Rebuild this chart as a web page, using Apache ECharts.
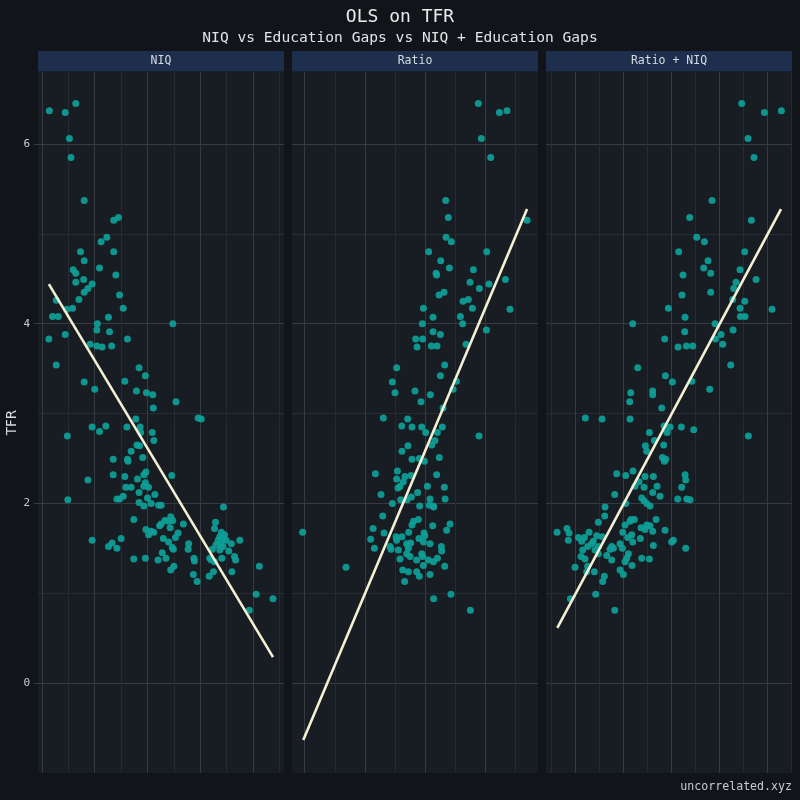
<!DOCTYPE html>
<html>
<head>
<meta charset="utf-8">
<script src="https://cdn.jsdelivr.net/npm/echarts@6/dist/echarts.min.js"></script>
<style>
  html, body { margin: 0; padding: 0; background: #111418; }
  #chart { width: 800px; height: 800px; }
</style>
</head>
<body>
<div id="chart"></div>
<script>
// facet titles
const panelTitles = ['NIQ', 'Ratio', 'Ratio + NIQ']
const yTickValues = [0, 2, 4, 6]

// NIQ vs TFR
const niqPoints = [
  [61.4, 6.37], [64.4, 6.35], [66.4, 6.45], [65.2, 6.06], [65.5, 5.85], [68.0, 5.37], [73.6, 5.15], [74.5, 5.18],
  [71.2, 4.91], [72.3, 4.96], [67.3, 4.80], [73.6, 4.80], [68.0, 4.70], [70.9, 4.62], [65.9, 4.60], [66.4, 4.56],
  [74.0, 4.54], [66.4, 4.46], [67.9, 4.49], [69.5, 4.44], [68.7, 4.39], [68.0, 4.35], [62.7, 4.26], [67.0, 4.27],
  [74.7, 4.32], [64.7, 4.16], [65.8, 4.17], [75.4, 4.17], [62.0, 4.08], [63.1, 4.08], [72.6, 4.07], [70.5, 4.00],
  [84.8, 4.00], [61.3, 3.83], [64.4, 3.88], [70.4, 3.93], [72.8, 3.91], [76.2, 3.83], [69.1, 3.77], [70.4, 3.75],
  [71.4, 3.74], [73.2, 3.75], [62.7, 3.54], [78.4, 3.51], [79.6, 3.42], [68.0, 3.35], [75.7, 3.36], [70.0, 3.27],
  [77.9, 3.25], [79.8, 3.23], [81.0, 3.21], [85.4, 3.13], [81.1, 3.06], [89.6, 2.95], [90.2, 2.94], [77.8, 2.94],
  [69.5, 2.85], [72.1, 2.86], [76.1, 2.85], [78.6, 2.85], [70.9, 2.80], [78.7, 2.79], [80.9, 2.79], [81.2, 2.70],
  [64.8, 2.75], [78.0, 2.65], [78.5, 2.64], [76.9, 2.58], [79.1, 2.51], [73.5, 2.49], [76.2, 2.49], [76.3, 2.47],
  [79.7, 2.35], [79.3, 2.32], [73.5, 2.32], [75.7, 2.30], [84.6, 2.31], [68.7, 2.26], [78.1, 2.27], [79.6, 2.23],
  [79.3, 2.19], [75.9, 2.18], [76.9, 2.18], [80.2, 2.18], [78.4, 2.12], [81.4, 2.10], [74.2, 2.05], [74.7, 2.05],
  [75.4, 2.08], [80.0, 2.06], [64.9, 2.04], [78.4, 2.01], [80.7, 2.00], [79.3, 1.97], [82.1, 1.98], [82.6, 1.98],
  [94.4, 1.96], [77.4, 1.82], [84.4, 1.85], [83.3, 1.81], [84.0, 1.80], [84.8, 1.81], [82.6, 1.77], [82.3, 1.75],
  [84.3, 1.73], [86.8, 1.77], [92.9, 1.79], [79.7, 1.71], [80.7, 1.69], [81.2, 1.68], [80.2, 1.65], [85.8, 1.67],
  [92.7, 1.72], [94.0, 1.68], [94.6, 1.65], [93.7, 1.63], [94.3, 1.61], [93.4, 1.59], [94.9, 1.59], [93.9, 1.55],
  [93.0, 1.54], [94.3, 1.52], [93.7, 1.48], [95.9, 1.55], [97.5, 1.59], [95.4, 1.47], [96.5, 1.41], [96.7, 1.37],
  [94.1, 1.39], [92.3, 1.49], [91.8, 1.39], [92.1, 1.37], [92.7, 1.35], [85.3, 1.62], [69.5, 1.59], [83.0, 1.61],
  [84.0, 1.57], [75.0, 1.61], [73.3, 1.56], [72.6, 1.52], [74.2, 1.50], [84.7, 1.51], [84.9, 1.49], [87.8, 1.55],
  [87.7, 1.49], [82.8, 1.45], [83.5, 1.39], [82.0, 1.37], [77.4, 1.38], [79.6, 1.39], [88.8, 1.39], [88.9, 1.36],
  [85.0, 1.30], [84.4, 1.26], [88.7, 1.21], [89.4, 1.13], [91.7, 1.19], [92.5, 1.24], [96.0, 1.24], [101.2, 1.30],
  [100.6, 0.99], [103.8, 0.94], [99.3, 0.81]
]

// education-gap ratio vs TFR
const ratioPoints = [
  [1.942, 6.45], [2.117, 6.35], [2.180, 6.37], [1.967, 6.06], [2.045, 5.85], [1.671, 5.37], [1.693, 5.18], [2.347, 5.15],
  [1.674, 4.96], [1.718, 4.91], [1.530, 4.80], [2.012, 4.80], [1.630, 4.70], [1.702, 4.62], [1.901, 4.60], [1.591, 4.56],
  [1.596, 4.54], [1.873, 4.46], [2.167, 4.49], [1.951, 4.39], [2.031, 4.44], [1.616, 4.32], [1.657, 4.35], [1.815, 4.25],
  [1.859, 4.27], [1.893, 4.17], [2.205, 4.16], [1.486, 4.17], [1.566, 4.07], [1.793, 4.08], [1.812, 4.00], [1.477, 4.00],
  [2.009, 3.93], [1.566, 3.91], [1.627, 3.88], [1.422, 3.83], [1.480, 3.83], [1.433, 3.74], [1.552, 3.75], [1.599, 3.75],
  [1.840, 3.77], [1.264, 3.51], [1.663, 3.54], [1.228, 3.35], [1.760, 3.36], [1.627, 3.42], [1.250, 3.23], [1.416, 3.25],
  [1.544, 3.21], [1.732, 3.27], [1.466, 3.13], [1.649, 3.06], [1.153, 2.95], [1.355, 2.94], [1.306, 2.86], [1.391, 2.85],
  [1.472, 2.85], [1.643, 2.85], [1.505, 2.79], [1.602, 2.79], [1.948, 2.75], [1.582, 2.70], [1.555, 2.65], [1.358, 2.64],
  [1.308, 2.58], [1.618, 2.51], [1.391, 2.49], [1.452, 2.50], [1.494, 2.47], [1.087, 2.33], [1.270, 2.36], [1.333, 2.30],
  [1.383, 2.31], [1.596, 2.32], [1.264, 2.27], [1.319, 2.24], [1.292, 2.19], [1.275, 2.17], [1.438, 2.12], [1.519, 2.19],
  [1.660, 2.18], [1.134, 2.10], [1.386, 2.07], [1.350, 2.04], [1.297, 2.04], [1.541, 2.05], [1.666, 2.05], [1.228, 2.00],
  [1.455, 1.97], [1.535, 1.98], [1.569, 1.97], [1.571, 1.96], [1.148, 1.86], [1.444, 1.82], [1.403, 1.80], [1.391, 1.76],
  [1.563, 1.75], [1.707, 1.77], [1.068, 1.72], [0.483, 1.68], [1.491, 1.67], [1.679, 1.70], [1.159, 1.67], [1.364, 1.68],
  [1.259, 1.63], [1.308, 1.63], [1.264, 1.59], [1.449, 1.61], [1.497, 1.64], [1.048, 1.60], [1.347, 1.55], [1.380, 1.56],
  [1.486, 1.57], [1.079, 1.50], [1.209, 1.52], [1.278, 1.48], [1.361, 1.50], [1.541, 1.55], [1.217, 1.49], [1.635, 1.52],
  [1.638, 1.47], [1.347, 1.44], [1.472, 1.44], [1.480, 1.41], [1.375, 1.41], [1.292, 1.38], [1.430, 1.37], [1.602, 1.39],
  [1.527, 1.37], [1.569, 1.35], [1.486, 1.31], [1.663, 1.30], [0.843, 1.29], [1.314, 1.26], [1.361, 1.24], [1.430, 1.24],
  [1.452, 1.19], [1.541, 1.21], [1.330, 1.13], [1.715, 0.99], [1.571, 0.94], [1.876, 0.81]
]

// ratio + NIQ vs TFR
const comboPoints = [
  [4.458, 6.45], [4.931, 6.35], [5.285, 6.37], [4.590, 6.06], [4.715, 5.85], [3.840, 5.37], [3.375, 5.18], [4.660, 5.15],
  [3.521, 4.96], [3.681, 4.91], [3.146, 4.80], [4.521, 4.80], [3.757, 4.70], [3.667, 4.62], [3.813, 4.56], [4.424, 4.60],
  [3.236, 4.54], [4.340, 4.46], [4.757, 4.49], [4.292, 4.39], [3.813, 4.35], [3.215, 4.32], [4.271, 4.27], [4.521, 4.25],
  [4.424, 4.17], [5.090, 4.16], [2.931, 4.17], [3.278, 4.07], [4.431, 4.08], [4.528, 4.08], [2.188, 4.00], [3.903, 4.00],
  [4.278, 3.93], [3.271, 3.91], [4.028, 3.88], [2.854, 3.83], [3.910, 3.83], [3.132, 3.74], [3.306, 3.75], [3.438, 3.75],
  [4.063, 3.77], [2.292, 3.51], [4.229, 3.54], [2.868, 3.42], [3.014, 3.35], [3.417, 3.36], [2.146, 3.23], [2.604, 3.25],
  [2.604, 3.21], [3.792, 3.27], [2.125, 3.13], [2.792, 3.06], [1.201, 2.95], [1.549, 2.94], [2.132, 2.94], [2.840, 2.86],
  [2.965, 2.85], [3.201, 2.85], [3.458, 2.82], [2.535, 2.79], [2.903, 2.79], [4.597, 2.75], [2.639, 2.70], [2.833, 2.65],
  [2.451, 2.64], [2.479, 2.58], [2.806, 2.51], [2.875, 2.49], [2.847, 2.47], [1.854, 2.33], [2.042, 2.31], [2.194, 2.36],
  [3.278, 2.32], [2.444, 2.30], [2.618, 2.30], [3.292, 2.26], [2.319, 2.24], [2.236, 2.19], [2.424, 2.18], [2.694, 2.19],
  [3.208, 2.18], [1.813, 2.10], [2.604, 2.12], [2.757, 2.08], [2.375, 2.06], [2.424, 2.03], [3.125, 2.05], [3.313, 2.05],
  [3.382, 2.04], [2.479, 2.00], [2.549, 1.97], [2.042, 2.00], [1.611, 1.96], [1.604, 1.86], [2.674, 1.82], [2.153, 1.82],
  [2.222, 1.82], [2.132, 1.80], [1.472, 1.79], [2.028, 1.76], [2.479, 1.76], [2.361, 1.73], [2.444, 1.71], [2.549, 1.75],
  [2.861, 1.70], [2.604, 1.69], [0.611, 1.68], [0.819, 1.72], [0.861, 1.67], [1.278, 1.68], [1.979, 1.68], [0.847, 1.59],
  [1.056, 1.62], [1.181, 1.62], [1.438, 1.64], [1.556, 1.63], [2.167, 1.65], [2.083, 1.62], [2.347, 1.61], [1.125, 1.58],
  [1.368, 1.58], [1.333, 1.55], [1.250, 1.52], [1.472, 1.52], [1.750, 1.52], [1.924, 1.55], [2.188, 1.57], [3.035, 1.59],
  [3.000, 1.57], [1.972, 1.50], [2.618, 1.53], [1.146, 1.48], [1.403, 1.48], [1.715, 1.49], [1.785, 1.50], [3.292, 1.50],
  [1.111, 1.41], [1.194, 1.38], [1.472, 1.44], [1.646, 1.42], [2.097, 1.44], [2.063, 1.39], [1.750, 1.37], [2.375, 1.39],
  [2.535, 1.38], [2.028, 1.35], [0.986, 1.29], [1.250, 1.30], [1.924, 1.26], [2.174, 1.31], [1.229, 1.24], [1.389, 1.24],
  [1.993, 1.21], [1.597, 1.19], [1.562, 1.13], [1.417, 0.99], [0.889, 0.94], [1.813, 0.81]
]

// OLS fit lines, end points
const niqFit = [[61.3, 4.44], [103.8, 0.29]]
const ratioFit = [[0.488, -0.634], [2.347, 5.275]]
const comboFit = [[0.617, 0.615], [5.277, 5.275]]

// x ranges of each panel (panel edge, first grid line, grid step)
const panels = [
  { left: 38, lineLeft: 42, xMin: 59.24, xMax: 105.88, lineMin: 60, step: 5, majorFirst: true, points: niqPoints, fit: niqFit },
  { left: 292, lineLeft: 304.7, xMin: 0.3945, xMax: 2.4377, lineMin: 0.5, step: 0.25, majorFirst: true, points: ratioPoints, fit: ratioFit },
  { left: 546, lineLeft: 551.7, xMin: 0.381, xMax: 5.506, lineMin: 0.5, step: 0.5, majorFirst: false, points: comboPoints, fit: comboFit }
]

const panelWidth = 246
const panelTop = 72
const panelHeight = 701
const yMin = -1
const yMax = 6.8
const mono = 'DejaVu Sans Mono'
const majorColor = '#363a42'
const minorColor = '#262a31'

const grid = []
const xAxis = []
const yAxis = []
const series = []
const graphic = []

panels.forEach((p, i) => {
  const right = 800 - (p.left + panelWidth)
  // full panel: background, horizontal lines, data
  grid.push({
    left: p.left, width: panelWidth, top: panelTop, height: panelHeight,
    show: true, backgroundColor: '#181c23', borderWidth: 0
  })
  // inner grid only for the vertical grid lines
  grid.push({
    left: p.lineLeft, right: right, top: panelTop, height: panelHeight
  })
  xAxis.push({
    type: 'value', gridIndex: 2 * i, min: p.xMin, max: p.xMax,
    axisLine: { show: false }, axisTick: { show: false }, axisLabel: { show: false },
    splitLine: { show: false }
  })
  xAxis.push({
    type: 'value', gridIndex: 2 * i + 1, min: p.lineMin, max: p.xMax, interval: p.step,
    axisLine: { show: false }, axisTick: { show: false }, axisLabel: { show: false },
    splitLine: {
      show: true, showMinLine: true, showMaxLine: false,
      lineStyle: {
        color: p.majorFirst ? [majorColor, minorColor] : [minorColor, majorColor],
        width: 1
      }
    }
  })
  // horizontal major + minor lines, one per unit; first drawn line is 0
  yAxis.push({
    type: 'value', gridIndex: 2 * i, min: yMin, max: yMax, interval: 1,
    axisLine: { show: false }, axisTick: { show: false }, axisLabel: { show: false },
    splitLine: {
      show: true, showMinLine: false, showMaxLine: false,
      lineStyle: { color: [majorColor, minorColor], width: 1 }
    }
  })
  yAxis.push({
    type: 'value', gridIndex: 2 * i + 1, min: yMin, max: yMax, show: false
  })

  series.push({
    type: 'scatter', xAxisIndex: 2 * i, yAxisIndex: 2 * i,
    data: p.points, symbolSize: 7,
    itemStyle: { color: '#0e9f98', opacity: 0.92 }
  })
  series.push({
    type: 'line', xAxisIndex: 2 * i, yAxisIndex: 2 * i,
    data: p.fit, showSymbol: false, clip: false,
    lineStyle: { color: '#f4f0d4', width: 2.6 }, z: 3
  })

  // facet strip
  graphic.push({
    type: 'rect', shape: { x: p.left, y: 51, width: panelWidth, height: 20.5 },
    style: { fill: '#1d2f4c' }, silent: true
  })
  graphic.push({
    type: 'text', x: p.left + panelWidth / 2, y: 61.5,
    style: {
      text: panelTitles[i], fill: '#d7dbe2', font: '11.5px ' + mono,
      textAlign: 'center', textVerticalAlign: 'middle'
    },
    silent: true
  })
})

// tick labels and axis title on the first panel only
yAxis.push({
  type: 'value', gridIndex: 0, position: 'left', min: yMin, max: yMax,
  name: 'TFR', nameLocation: 'middle', nameGap: 19,
  nameTextStyle: { color: '#d6d9de', fontFamily: 'DejaVu Sans', fontSize: 13.5 },
  axisLine: { show: false },
  axisTick: { show: true, length: 4, customValues: yTickValues, lineStyle: { color: majorColor } },
  axisLabel: { margin: 8, color: '#c9cdd3', fontFamily: mono, fontSize: 11, customValues: yTickValues },
  splitLine: { show: false }
})

const chart = echarts.init(document.getElementById('chart'))
chart.setOption({
  backgroundColor: '#111418',
  animation: false,
  title: [
    { text: 'OLS on TFR', left: 'center', top: 3, textStyle: { color: '#e9eaec', fontFamily: mono, fontSize: 18, fontWeight: 'normal' } },
    { text: 'NIQ vs Education Gaps vs NIQ + Education Gaps', left: 'center', top: 26, textStyle: { color: '#e2e4e8', fontFamily: mono, fontSize: 14.6, fontWeight: 'normal' } },
    { text: 'uncorrelated.xyz', right: 3, bottom: 2, textStyle: { color: '#c9cdd3', fontFamily: mono, fontSize: 11.6, fontWeight: 'normal' } }
  ],
  grid,
  xAxis,
  yAxis,
  series,
  graphic
})

window.addEventListener('resize', () => chart.resize())
</script>
</body>
</html>
